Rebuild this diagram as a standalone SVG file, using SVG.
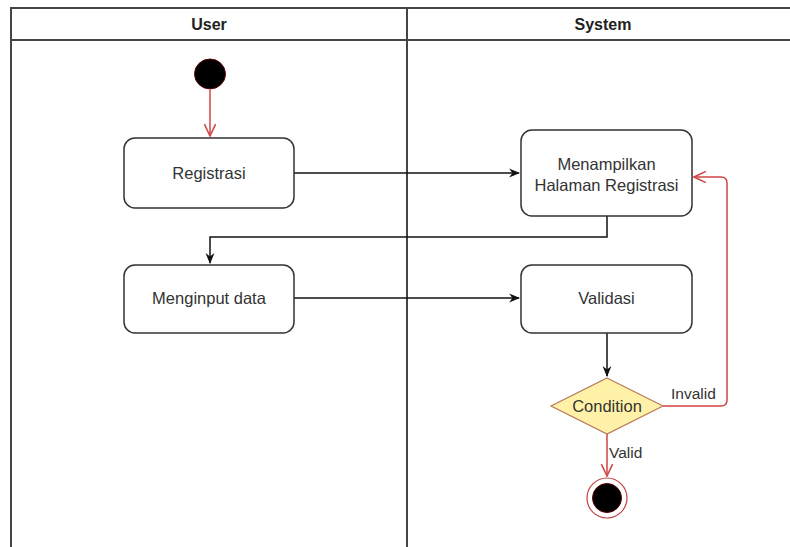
<svg xmlns="http://www.w3.org/2000/svg" width="790" height="547" viewBox="0 0 790 547">
<style>
.lane{fill:none;stroke:#444;stroke-width:2}
.hdr{font-family:"Liberation Sans",Arial,sans-serif;font-size:16px;font-weight:bold;fill:#222;text-anchor:middle}
.box{fill:#fff;stroke:#333;stroke-width:1.5}
.lbl{font-family:"Liberation Sans",Arial,sans-serif;font-size:16.5px;fill:#333;text-anchor:middle}
.small{font-family:"Liberation Sans",Arial,sans-serif;font-size:15.5px;fill:#333}
.blk{fill:none;stroke:#111;stroke-width:1.5}
.red{fill:none;stroke:#d04545;stroke-width:1.5}
</style>
<defs>
<marker id="ab" viewBox="0 0 10 10" refX="9" refY="5" markerWidth="11" markerHeight="11" markerUnits="userSpaceOnUse" orient="auto">
<path d="M0,1 L10,5 L0,9 L3,5 Z" fill="#111"/>
</marker>
<marker id="ar" viewBox="0 0 10 10" refX="9.5" refY="5" markerWidth="14" markerHeight="14" markerUnits="userSpaceOnUse" orient="auto">
<path d="M1,1 L9.5,5 L1,9" fill="none" stroke="#d04545" stroke-width="1.1"/>
</marker>
</defs>
<rect x="0" y="0" width="790" height="547" fill="#fff"/>
<g id="lanes">
<path class="lane" d="M11,547 V8 H790 M11,40 H790 M407,8 V547"/>
<text class="hdr" x="209" y="30">User</text>
<text class="hdr" x="603" y="30">System</text>
</g>
<g id="connectors">
<path class="red" d="M210,90 V136" marker-end="url(#ar)"/>
<path class="blk" d="M294,173 H519" marker-end="url(#ab)"/>
<path class="blk" d="M607,216 V237 H210 V263" marker-end="url(#ab)"/>
<path class="blk" d="M294,298 H519" marker-end="url(#ab)"/>
<path class="blk" d="M607,333 V376" marker-end="url(#ab)"/>
<path class="red" d="M663,406 H721 Q727,406 727,400 V183 Q727,177 721,177 H694" marker-end="url(#ar)"/>
<path class="red" d="M607,434 V476" marker-end="url(#ar)"/>
<text class="small" x="671" y="399">Invalid</text>
<text class="small" x="609" y="458">Valid</text>
</g>
<g id="start">
<ellipse cx="210" cy="74" rx="15.5" ry="15" fill="#000" stroke="#5a0000" stroke-width="1"/>
</g>
<g id="registrasi">
<rect class="box" x="124" y="138" width="170" height="70" rx="11"/>
<text class="lbl" x="209" y="179">Registrasi</text>
</g>
<g id="menampilkan">
<rect class="box" x="521" y="130" width="171" height="86" rx="11"/>
<text class="lbl" x="606.5" y="170">Menampilkan</text>
<text class="lbl" x="606.5" y="191">Halaman Registrasi</text>
</g>
<g id="menginput">
<rect class="box" x="124" y="265" width="170" height="68" rx="11"/>
<text class="lbl" x="209" y="304">Menginput data</text>
</g>
<g id="validasi">
<rect class="box" x="521" y="265" width="171" height="68" rx="11"/>
<text class="lbl" x="606.5" y="304">Validasi</text>
</g>
<g id="condition">
<path d="M607,378 L663,406 L607,434 L551,406 Z" fill="#fff2a8" stroke="#b8795a" stroke-width="1.2"/>
<text class="lbl" x="607" y="412" style="fill:#333">Condition</text>
</g>
<g id="end">
<circle cx="607" cy="498" r="20" fill="#fff" stroke="#c04040" stroke-width="1.2"/>
<circle cx="607" cy="498" r="14.5" fill="#000" stroke="#5a0000" stroke-width="1"/>
</g>
</svg>
